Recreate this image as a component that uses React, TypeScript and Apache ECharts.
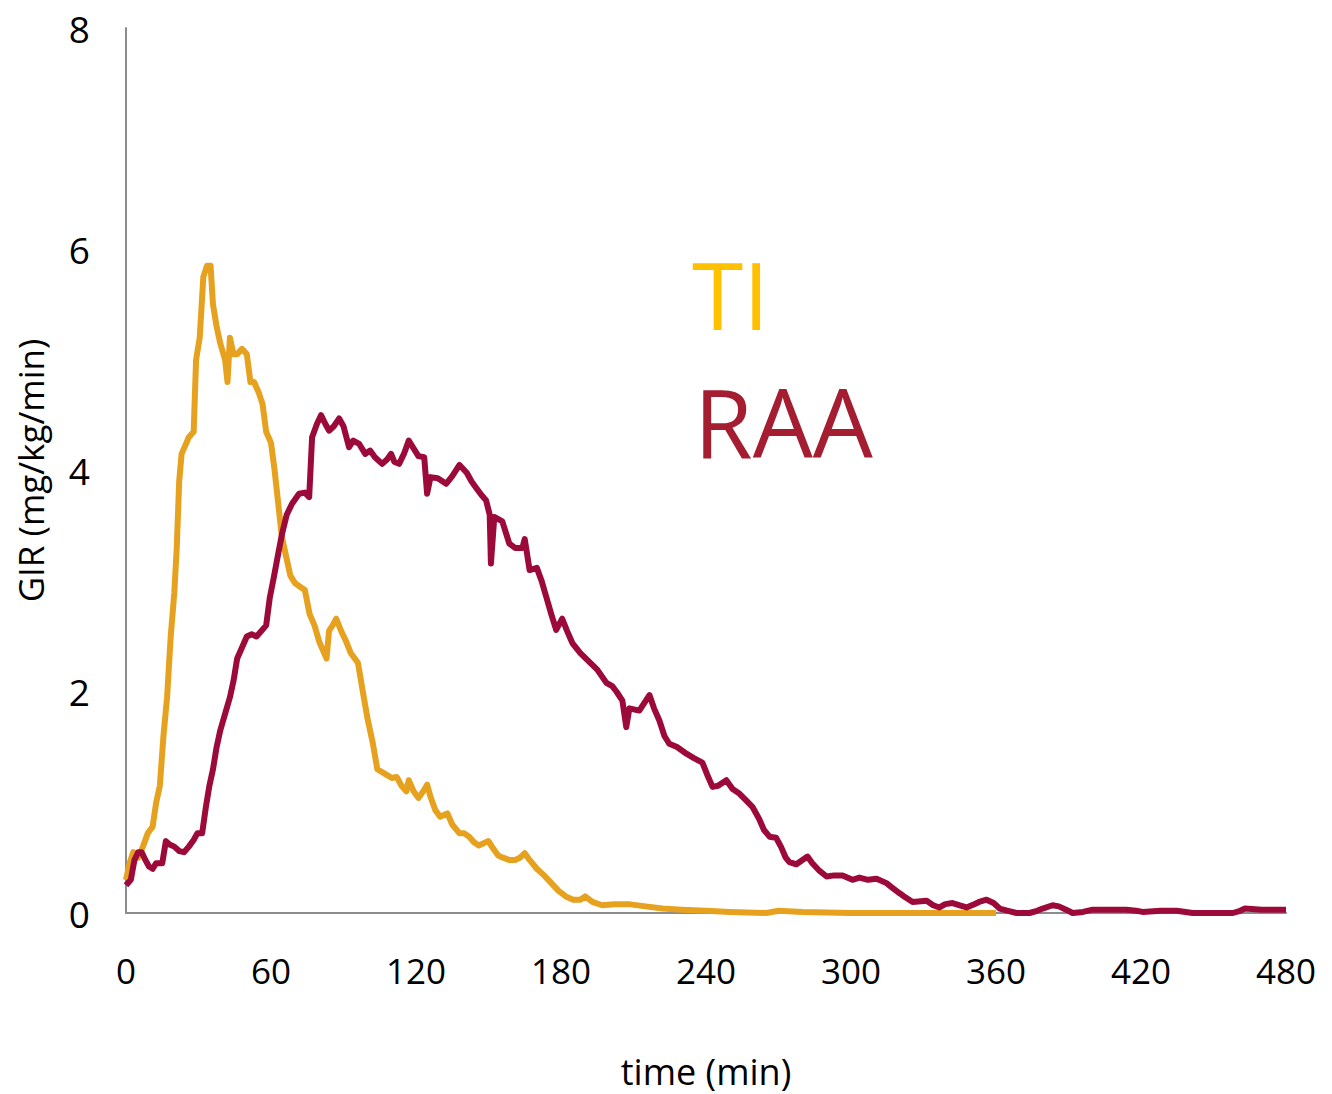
import React, { useEffect, useRef } from "react";
import * as echarts from "echarts";

// Glucose infusion rate curves, [time (min), GIR (mg/kg/min)]
const tiSeries: [number, number][] = [
  [0, 0.3], [1.5, 0.45], [3, 0.55], [5, 0.5], [7, 0.6], [9, 0.72], [11, 0.78], [12.5, 1.0],
  [14, 1.15], [15.5, 1.6], [17, 1.95], [18.5, 2.5], [20, 2.9], [21, 3.3], [22, 3.9], [23, 4.15],
  [25, 4.25], [26, 4.3], [28, 4.35], [29, 5.0], [30.5, 5.2], [32, 5.75], [33.5, 5.85], [35, 5.85],
  [36, 5.5], [37.5, 5.3], [39, 5.15], [41, 5.0], [42, 4.8], [43, 5.2], [44.5, 5.05], [46, 5.05],
  [48, 5.1], [50, 5.05], [51.5, 4.8], [53, 4.8], [55, 4.7], [56.5, 4.6], [58, 4.35], [60, 4.25],
  [61.5, 4.0], [63, 3.7], [64.5, 3.4], [66.5, 3.2], [68, 3.05], [70, 2.98], [72, 2.95], [74, 2.92],
  [76, 2.7], [78, 2.6], [80, 2.45], [82, 2.35], [83, 2.3], [84, 2.55], [85.5, 2.6], [87, 2.66],
  [89, 2.55], [91, 2.46], [93, 2.35], [96, 2.26], [98, 2.0], [100, 1.75], [102, 1.55], [104, 1.3],
  [107, 1.26], [110, 1.22], [112, 1.23], [114, 1.15], [116, 1.1], [117, 1.2], [119, 1.1], [121, 1.04],
  [123, 1.1], [124.6, 1.16], [126, 1.05], [128, 0.93], [130, 0.87], [133, 0.9], [135, 0.8], [138, 0.72],
  [140, 0.72], [142, 0.69], [144, 0.64], [146, 0.61], [148, 0.63], [150, 0.65], [152, 0.58], [154, 0.52],
  [156, 0.5], [158.5, 0.48], [161, 0.48], [163, 0.5], [165, 0.54], [167, 0.48], [170, 0.4], [173, 0.34],
  [176, 0.27], [179, 0.2], [182, 0.15], [185, 0.12], [188, 0.12], [190, 0.15], [193, 0.1], [197, 0.07],
  [202, 0.08], [208, 0.08], [215, 0.06], [222, 0.04], [230, 0.03], [240, 0.02], [250, 0.01], [265, 0.0],
  [270, 0.02], [280, 0.01], [300, 0.0], [330, 0.0], [360, 0.0],
];

const raaSeries: [number, number][] = [
  [0, 0.25], [2, 0.3], [3.5, 0.48], [5, 0.55], [6.5, 0.55], [8, 0.48], [9.5, 0.42], [11, 0.4],
  [12.5, 0.45], [15, 0.45], [16.5, 0.65], [18, 0.62], [20, 0.6], [22, 0.56], [24, 0.55], [26, 0.6],
  [28, 0.66], [29.5, 0.72], [31.5, 0.72], [33, 0.95], [34.5, 1.15], [36, 1.3], [37.5, 1.5], [39, 1.65],
  [41, 1.8], [43, 1.95], [44.5, 2.1], [46, 2.3], [48, 2.4], [50, 2.5], [52, 2.52], [54, 2.5],
  [56, 2.55], [58, 2.6], [59.5, 2.85], [61.3, 3.05], [63, 3.25], [64.6, 3.43], [66.5, 3.6], [68.7, 3.7],
  [71.6, 3.79], [74, 3.8], [75.8, 3.76], [77, 4.3], [79, 4.42], [80.7, 4.5], [82.5, 4.42], [84, 4.36],
  [86, 4.4], [88.2, 4.47], [90, 4.4], [92.3, 4.21], [94, 4.27], [96.5, 4.24], [99, 4.15], [101, 4.18],
  [103, 4.12], [106, 4.06], [108, 4.1], [109.7, 4.15], [111, 4.08], [113, 4.06], [115, 4.15], [117, 4.27],
  [119, 4.2], [121, 4.13], [123.4, 4.12], [124.6, 3.79], [126, 3.94], [129, 3.93], [132.5, 3.88], [135, 3.95],
  [138, 4.05], [141, 3.98], [143, 3.9], [145, 3.84], [147, 3.78], [149, 3.73], [150.5, 3.6], [151, 3.16],
  [152.4, 3.58], [155.7, 3.54], [158.6, 3.34], [161, 3.3], [164, 3.3], [165, 3.38], [167, 3.1], [170, 3.12],
  [172, 3.0], [174, 2.85], [176, 2.7], [178, 2.56], [180.5, 2.66], [182.5, 2.55], [184.7, 2.44], [188, 2.35],
  [191.7, 2.27], [195, 2.2], [198.8, 2.08], [201.2, 2.05], [203, 2.0], [205.4, 1.92], [207, 1.68], [208.3, 1.85],
  [212.4, 1.83], [214.5, 1.9], [216.6, 1.97], [218.5, 1.85], [220.7, 1.74], [222.8, 1.6], [224.8, 1.53], [228, 1.5],
  [231.9, 1.44], [235, 1.4], [238.5, 1.36], [240.5, 1.25], [242.7, 1.14], [245, 1.15], [248.4, 1.2], [251, 1.12],
  [253.8, 1.08], [256.5, 1.02], [259.2, 0.96], [262, 0.85], [264, 0.75], [266.3, 0.69], [269, 0.68], [271, 0.6],
  [273, 0.5], [274.5, 0.46], [277.4, 0.44], [282, 0.51], [284, 0.45], [287, 0.38], [289.9, 0.33], [293, 0.34],
  [296.5, 0.34], [300.6, 0.3], [303.5, 0.32], [307, 0.3], [310.6, 0.31], [314.7, 0.27], [317, 0.23], [320, 0.18],
  [322, 0.15], [325.5, 0.1], [331.3, 0.11], [334, 0.07], [336.6, 0.05], [339, 0.08], [342, 0.09], [345, 0.07],
  [347.8, 0.05], [351, 0.08], [353, 0.1], [356.1, 0.12], [359, 0.09], [361.5, 0.04], [365, 0.02], [368.5, 0.0],
  [373.9, 0.0], [377, 0.02], [379.3, 0.04], [383.4, 0.07], [386, 0.06], [389, 0.03], [391.7, 0.0], [396, 0.01],
  [400, 0.03], [407, 0.03], [414, 0.03], [418, 0.02], [420.7, 0.01], [428, 0.02], [434.8, 0.02], [441.4, 0.0],
  [450, 0.0], [458, 0.0], [461, 0.02], [463, 0.04], [470, 0.03], [480, 0.03],
];

const seriesNames = ["TI", "RAA"];
const xTicks = { min: 0, max: 480, interval: 60 };
const yTicks = { min: 0, max: 8, interval: 2 };
const xAxisTitle = "time (min)";
const yAxisTitle = "GIR (mg/kg/min)";

const TI_LINE = "#E6A11E";
const RAA_LINE = "#9C0A3A";
const TI_TEXT = "#FFC000";
const RAA_TEXT = "#A51D31";
const AXIS = "#8C8C8C";
const FONT = "Open Sans, sans-serif";

export default function App() {
  const ref = useRef<HTMLDivElement>(null);

  useEffect(() => {
    if (!ref.current) return;
    const chart = echarts.init(ref.current, undefined, { renderer: "svg" });
    chart.setOption({
      animation: false,
      backgroundColor: "#ffffff",
      grid: { left: 126, right: 46, top: 28, bottom: 181, containLabel: false },
      xAxis: {
        type: "value",
        min: xTicks.min,
        max: xTicks.max,
        interval: xTicks.interval,
        axisLine: { show: true, onZero: false, lineStyle: { color: AXIS, width: 2 } },
        axisTick: { show: false },
        splitLine: { show: false },
        axisLabel: { color: "#000", fontSize: 35, fontFamily: FONT, margin: 40 },
        name: xAxisTitle,
        nameLocation: "middle",
        nameGap: 140,
        nameTextStyle: { color: "#000", fontSize: 36, fontFamily: FONT },
      },
      yAxis: {
        type: "value",
        min: yTicks.min,
        max: yTicks.max,
        interval: yTicks.interval,
        axisLine: { show: true, lineStyle: { color: AXIS, width: 2 } },
        axisTick: { show: false },
        splitLine: { show: false },
        axisLabel: { color: "#000", fontSize: 37, fontFamily: FONT, margin: 36 },
        name: yAxisTitle,
        nameLocation: "middle",
        nameGap: 78,
        nameTextStyle: { color: "#000", fontSize: 35, fontFamily: FONT },
      },
      series: [
        {
          name: seriesNames[0],
          type: "line",
          data: tiSeries,
          showSymbol: false,
          lineStyle: { color: TI_LINE, width: 6, join: "round" },
          itemStyle: { color: TI_LINE },
          z: 2,
        },
        {
          name: seriesNames[1],
          type: "line",
          data: raaSeries,
          showSymbol: false,
          lineStyle: { color: RAA_LINE, width: 6, join: "round" },
          itemStyle: { color: RAA_LINE },
          z: 3,
        },
      ],
      graphic: [
        {
          type: "text",
          left: 692,
          top: 247,
          style: { text: seriesNames[0], fill: TI_TEXT, fontSize: 93, fontFamily: FONT },
        },
        {
          type: "text",
          left: 694,
          top: 373,
          style: { text: seriesNames[1], fill: RAA_TEXT, fontSize: 95, fontFamily: FONT },
        },
      ],
    });
    return () => chart.dispose();
  }, []);

  return (
    <div
      ref={ref}
      style={{ position: "fixed", left: 0, top: 0, width: 1332, height: 1094, background: "#fff" }}
    />
  );
}
